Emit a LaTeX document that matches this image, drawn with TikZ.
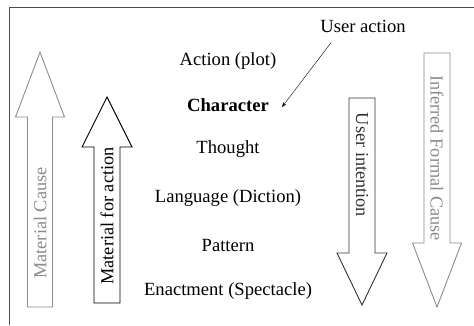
\documentclass[tikz,border=0pt]{standalone}
\usepackage{fontspec}
\setmainfont{Liberation Serif}
\newfontfamily\timesfont{Liberation Serif}
\usetikzlibrary{arrows.meta,positioning}
\colorlet{lightgrey}{black!45}
\tikzstyle{level}=[font=\timesfont\fontsize{18.6}{20}\selectfont, inner sep=1pt]
\tikzstyle{cause}=[draw, fill=white, line width=.9pt, line join=miter]
\tikzstyle{arrowtext}=[font=\timesfont\fontsize{18.3}{20}\selectfont, inner sep=0pt]
% block arrow: centre x, tail y, head base y, tip y, half shaft, half head
\newcommand{\blockarrow}[7][]{%
  \draw[cause,#1] (#2-#6,#3) -- (#2-#6,#4) -- (#2-#7,#4) -- (#2,#5)
    -- (#2+#7,#4) -- (#2+#6,#4) -- (#2+#6,#3) -- cycle;}

\begin{document}
\begin{tikzpicture}[x=1pt, y=-1pt, >=Stealth, node distance=44pt]
  \useasboundingbox (0,0) rectangle (474,325);
  \draw[black!70, line width=1pt] (474,7) -- (9,7) -- (9,325);

  % the six levels
  \node[level] (plot) at (228,61) {Action (plot)};
  \node[level, font=\timesfont\fontsize{18.6}{20}\selectfont\bfseries, below=of plot.center, anchor=center] (char) {Character};
  \node[level, below=of char.center, anchor=center] (thought) {Thought};
  \node[level, below=49pt of thought.center, anchor=center] (lang) {Language (Diction)};
  \node[level, below=47pt of lang.center, anchor=center] (pattern) {Pattern};
  \node[level, below=46pt of pattern.center, anchor=center] (enact) {Enactment (Spectacle)};

  \node[level] (ua) at (363,26) {User action};
  \draw[->, thin] ([xshift=12pt,yshift=-9pt]ua.south west) -- ([xshift=12pt,yshift=-2pt]char.east);

  % causes going up
  \blockarrow[draw=lightgrey]{40}{307}{117}{52}{12.5}{24.5}
  \node[arrowtext, text=lightgrey, rotate=90] (matcause) at (40,223) {Material Cause};
  \blockarrow{107}{303}{147}{97}{13}{25}
  \node[arrowtext, rotate=90] (matact) at (107,216) {Material for action};

  % causes going down
  \blockarrow[draw=black!80]{362}{98}{253}{305}{13}{25}
  \node[arrowtext, text=black!80, rotate=-90] (intent) at (362,165) {User intention};
  \blockarrow[draw=lightgrey]{437}{53}{243}{307}{13}{24.5}
  \node[arrowtext, text=lightgrey, rotate=-90] (formal) at (437,158) {Inferred Formal Cause};
\end{tikzpicture}
\end{document}
